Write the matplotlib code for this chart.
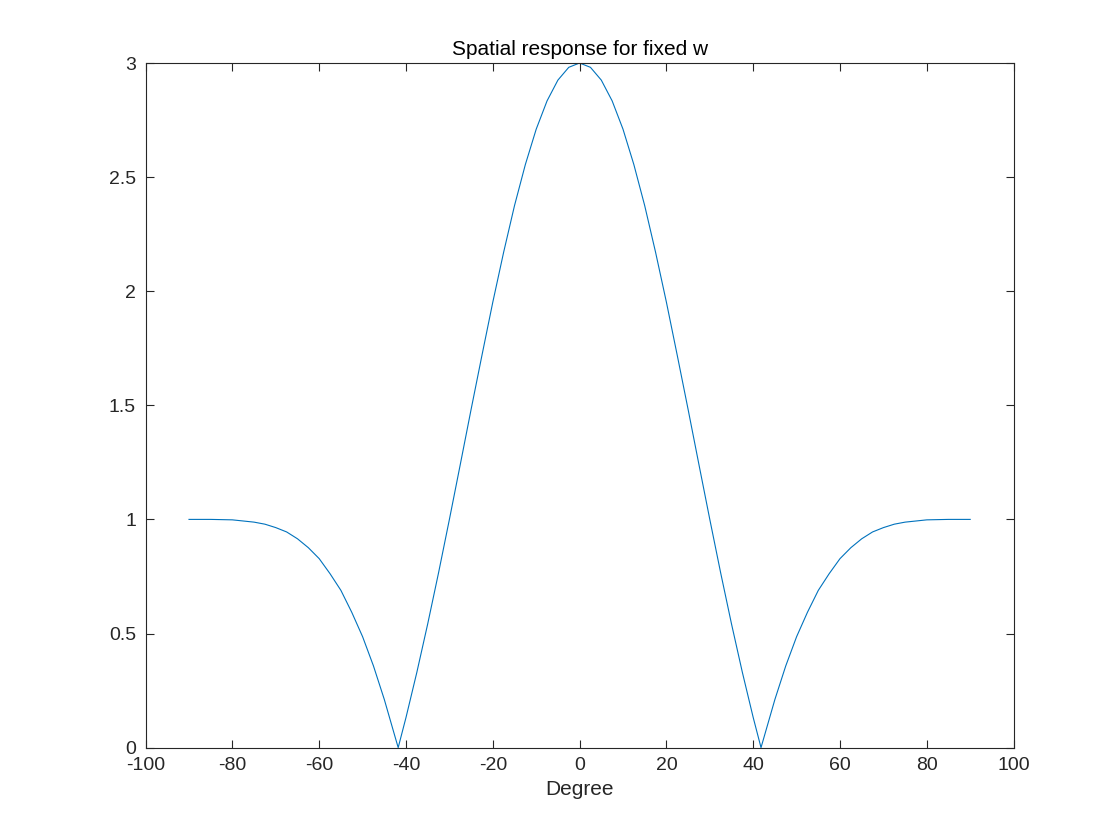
import matplotlib
matplotlib.use("Agg")
import matplotlib.pyplot as plt

deg_pos = [0, 2.5, 5, 7.5, 10, 12.5, 15, 17.5, 20, 22.5, 25, 27.5, 30, 32.5, 35, 37.5, 40, 41.8,
           42.5, 45, 47.5, 50, 52.5, 55, 57.5, 60, 62.5, 65, 67.5, 70, 72.5, 75, 80, 85, 90]
resp_pos = [3.0, 2.981, 2.925, 2.834, 2.710, 2.555, 2.375, 2.171, 1.952, 1.719, 1.482, 1.240, 1.0,
            0.766, 0.542, 0.330, 0.132, 0.0, 0.046, 0.211, 0.358, 0.486, 0.593, 0.689, 0.762, 0.828,
            0.876, 0.915, 0.945, 0.964, 0.979, 0.988, 0.998, 1.0, 1.0]
degrees = [-d for d in deg_pos[::-1]] + deg_pos[1:]
response = resp_pos[::-1] + resp_pos[1:]

plt.rcParams['font.family'] = ['Liberation Sans', 'DejaVu Sans']
plt.rcParams['axes.unicode_minus'] = False
fig = plt.figure(figsize=(11.2, 8.4), dpi=100)
ax = fig.add_axes([0.13, 0.11, 0.775, 0.815])
ax.plot(degrees, response, color='#0072BD', linewidth=0.8)
ax.set_xlim(-100, 100)
ax.set_ylim(0, 3)
ax.set_xticks(range(-100, 101, 20))
ax.set_yticks([0, 0.5, 1, 1.5, 2, 2.5, 3])
ax.set_yticklabels(['0', '0.5', '1', '1.5', '2', '2.5', '3'])
ax.tick_params(direction='in', top=True, right=True, labelsize=14, colors='#262626', length=6, pad=7)
for s in ax.spines.values():
    s.set_color('#262626'); s.set_linewidth(0.8)
ax.set_xlabel('Degree', fontsize=15, color='#262626', labelpad=4)
ax.set_title('Spatial response for fixed w', fontsize=15, color='black')
fig.savefig('out.png', dpi=100)
